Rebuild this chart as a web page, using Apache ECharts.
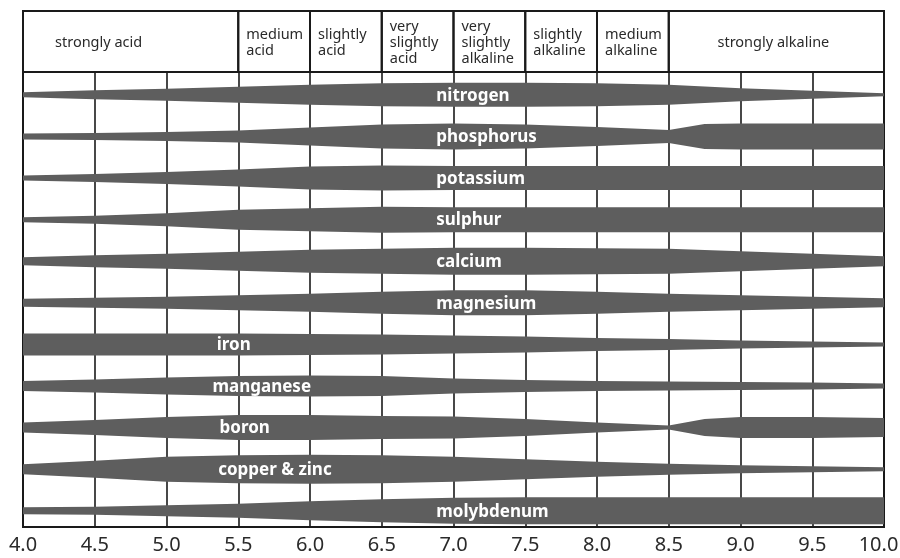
<!DOCTYPE html>
<html>
<head>
<meta charset="utf-8">
<script src="https://cdn.jsdelivr.net/npm/echarts@6/dist/echarts.min.js"></script>
<style>
html, body { margin: 0; background: #fff; }
#chart { width: 900px; height: 558px; }
</style>
</head>
<body>
<div id="chart"></div>
<script>
// soil reaction zones across the top
var zoneNames = ['strongly acid', 'medium\nacid', 'slightly\nacid', 'very\nslightly\nacid',
  'very\nslightly\nalkaline', 'slightly\nalkaline', 'medium\nalkaline', 'strongly alkaline'];
var zoneBreaks = [4.0, 5.5, 6.0, 6.5, 7.0, 7.5, 8.0, 8.5, 10.0];

var nutrients = ['nitrogen', 'phosphorus', 'potassium', 'sulphur', 'calcium', 'magnesium',
  'iron', 'manganese', 'boron', 'copper & zinc', 'molybdenum'];

// availability (band thickness) at each pH: [pH, width]
var nitrogen = [[4,5],[4.5,9],[5,12],[5.5,16],[6,20],[6.5,23],[7,24],[7.5,24],[8,23],[8.5,20],[9,13],[9.5,8],[10,3]];
var phosphorus = [[4,6],[4.5,7],[5,9],[5.5,12],[6,18],[6.5,24],[7,26],[7.5,24],[8,19],[8.5,13],[8.75,25],[9,26],[9.5,26],[10,26]];
var potassium = [[4,5],[4.5,8],[5,12],[5.5,17],[6,23],[6.5,25],[7,24],[7.5,24],[8,24],[8.5,24],[9,24],[9.5,24],[10,24]];
var sulphur = [[4,5],[4.5,8],[5,13],[5.5,20],[6,23],[6.5,26],[7,25],[7.5,25],[8,25],[8.5,25],[9,25],[9.5,25],[10,25]];
var calcium = [[4,8],[4.5,12],[5,15],[5.5,19],[6,23],[6.5,25],[7,27],[7.5,27],[8,26],[8.5,25],[9,20],[9.5,15],[10,10]];
var magnesium = [[4,8],[4.5,10],[5,12],[5.5,15],[6,18],[6.5,22],[7,25],[7.5,25],[8,22],[8.5,18],[9,15],[9.5,12],[10,9]];
var iron = [[4,22],[4.5,22],[5,22],[5.5,22],[6,21],[6.5,20],[7,18],[7.5,16],[8,13],[8.5,11],[9,8],[9.5,6],[10,4]];
var manganese = [[4,10],[4.5,13],[5,17],[5.5,20],[6,21],[6.5,20],[7,15],[7.5,12],[8,10],[8.5,9],[9,8],[9.5,7],[10,5]];
var boron = [[4,10],[4.5,15],[5,21],[5.5,25],[6,25],[6.5,23],[7,22],[7.5,17],[8,10],[8.5,4],[8.75,17],[9,21],[9.5,21],[10,19]];
var copperZinc = [[4,10],[4.5,17],[5,25],[5.5,28],[6,29],[6.5,28],[7,25],[7.5,20],[8,15],[8.5,11],[9,8],[9.5,6],[10,4]];
var molybdenum = [[4,7],[4.5,8],[5,11],[5.5,14],[6,19],[6.5,23],[7,26],[7.5,27],[8,27],[8.5,27],[9,27],[9.5,27],[10,27]];

var bands = [nitrogen, phosphorus, potassium, sulphur, calcium, magnesium,
  iron, manganese, boron, copperZinc, molybdenum];

// pH where each name starts
var labelAt = [6.88, 6.88, 6.88, 6.88, 6.88, 6.88, 5.35, 5.32, 5.37, 5.36, 6.88];

var FONT = '"Noto Sans", sans-serif';
var chart = echarts.init(document.getElementById('chart'));

function renderBand(params, api) {
  var row = api.value(1);
  var pts = bands[row];
  var top = [], bottom = [];
  pts.forEach(function (p) {
    var c = api.coord([p[0], row]);
    top.push([c[0], c[1] - p[1] / 2]);
    bottom.unshift([c[0], c[1] + p[1] / 2]);
  });
  var lab = api.coord([api.value(0), row]);
  return {
    type: 'group',
    children: [
      { type: 'polygon', shape: { points: top.concat(bottom) }, style: { fill: '#5e5e5e' } },
      { type: 'text', style: {
        text: nutrients[row], x: lab[0], y: lab[1] + 1,
        align: 'left', verticalAlign: 'middle',
        font: 'bold 17px ' + FONT, fill: '#fff'
      } }
    ]
  };
}

function renderZone(params, api) {
  var k = api.value(2);
  var a = api.coord([api.value(0), 1]);
  var b = api.coord([api.value(1), 0]);
  var x, align = 'left';
  if (k === 0) { x = a[0] + 32; }
  else if (k === zoneNames.length - 1) { x = (a[0] + b[0]) / 2 - 3; align = 'center'; }
  else { x = a[0] + 8; }
  return {
    type: 'group',
    children: [
      { type: 'rect', shape: { x: a[0], y: a[1], width: b[0] - a[0], height: b[1] - a[1] },
        style: { fill: 'none', stroke: '#1a1a1a', lineWidth: 2 } },
      { type: 'text', style: {
        text: zoneNames[k], x: x, y: (a[1] + b[1]) / 2 + 1,
        align: align, verticalAlign: 'middle', lineHeight: 16,
        font: '14.5px ' + FONT, fill: '#2a2a2a'
      } }
    ]
  };
}

var option = {
  animation: false,
  backgroundColor: '#fff',
  grid: [
    { left: 23, right: 16, top: 72, bottom: 31, show: true, borderColor: '#1a1a1a', borderWidth: 2,
      outerBoundsMode: 'none', containLabel: false },
    { left: 23, right: 16, top: 11, height: 61, outerBoundsMode: 'none', containLabel: false }
  ],
  xAxis: [
    {
      gridIndex: 0, type: 'value', min: 4, max: 10, interval: 0.5,
      axisLine: { show: false }, axisTick: { show: false },
      splitLine: { show: true, lineStyle: { color: '#1a1a1a', width: 1.6 } },
      axisLabel: {
        formatter: function (v) { return v === 10 ? '{end|10.0}' : v.toFixed(1); },
        fontSize: 20, color: '#2a2a2a', margin: 8, fontFamily: FONT,
        rich: { end: { fontSize: 20, color: '#2a2a2a', fontFamily: FONT, padding: [0, 11, 0, 0] } }
      }
    },
    { gridIndex: 1, type: 'value', min: 4, max: 10, show: false }
  ],
  yAxis: [
    { gridIndex: 0, type: 'value', inverse: true, min: -0.55, max: 10.39, show: false },
    { gridIndex: 1, type: 'value', min: 0, max: 1, show: false }
  ],
  series: [
    {
      type: 'custom', xAxisIndex: 0, yAxisIndex: 0,
      renderItem: renderBand,
      data: nutrients.map(function (n, i) { return [labelAt[i], i]; })
    },
    {
      type: 'custom', xAxisIndex: 1, yAxisIndex: 1,
      renderItem: renderZone,
      encode: { x: [0, 1], y: -1 },
      data: zoneNames.map(function (z, k) { return [zoneBreaks[k], zoneBreaks[k + 1], k]; })
    }
  ]
};

chart.setOption(option);
</script>
</body>
</html>
